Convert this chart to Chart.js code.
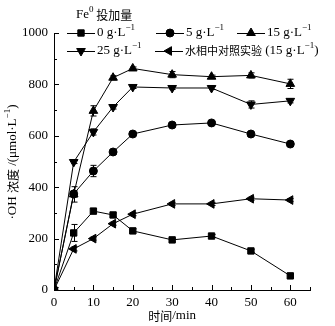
<!DOCTYPE html>
<html>
<head>
<meta charset="utf-8">
<script src="https://cdn.jsdelivr.net/npm/chart.js@4"></script>
<style>
  html, body { margin: 0; padding: 0; background: #fff; }
  #wrap { width: 335px; height: 326px; }
</style>
</head>
<body>
<div id="wrap"><canvas id="myChart" width="335" height="326"></canvas></div>
<script>
// time points (min)
const times = [0, 5, 10, 15, 20, 30, 40, 50, 60];
// ·OH concentration, µmol/L
const fe0 = [0, 222, 307, 292, 230, 195, 210, 152, 55];
const fe5 = [0, 374, 463, 537, 607, 642, 650, 607, 568];
const fe15 = [0, 372, 697, 826, 862, 838, 830, 835, 802];
const fe25 = [0, 498, 615, 712, 790, 786, 786, 722, 736];
const ctrl15 = [0, 160, 200, 258, 295, 335, 335, 355, 350];
// error bars
const err0 = [0, 33, 10, 8, 8, 6, 6, 6, 6];
const err5 = [0, 12, 22, 8, 6, 6, 6, 6, 6];
const err15 = [0, 30, 20, 8, 6, 12, 6, 10, 18];
const err25 = [0, 6, 12, 8, 6, 6, 6, 14, 8];
const errCtrl = [0, 8, 6, 6, 6, 6, 6, 6, 6];

const xTicks = [0, 10, 20, 30, 40, 50, 60];
const yTicks = [0, 200, 400, 600, 800, 1000];

const SERIF = '"Liberation Serif", "Times New Roman", serif';
const CJK = '"Noto Sans CJK SC", sans-serif';

function pts(vals) {
  return times.map((t, i) => ({ x: t, y: vals[i] }));
}

function series(label, vals, errs, style, rot, r) {
  return {
    label: label,
    data: pts(vals),
    errs: errs,
    borderColor: '#000',
    backgroundColor: '#000',
    borderWidth: 1,
    pointStyle: style,
    pointRotation: rot,
    pointRadius: r,
    pointBorderWidth: 1,
    pointBackgroundColor: '#000',
    pointBorderColor: '#000',
    tension: 0
  };
}

const datasets = [
  series('0 g·L⁻¹', fe0, err0, 'rect', 0, 4.5),
  series('5 g·L⁻¹', fe5, err5, 'circle', 0, 4),
  series('15 g·L⁻¹', fe15, err15, 'triangle', 0, 5),
  series('25 g·L⁻¹', fe25, err25, 'triangle', 180, 5),
  series('水相中对照实验 (15 g·L⁻¹)', ctrl15, errCtrl, 'triangle', 270, 5)
];

// draws text pieces: [text, font, yShift]
function drawPieces(ctx, x, y, pieces) {
  ctx.textBaseline = 'middle';
  ctx.textAlign = 'left';
  pieces.forEach(p => {
    ctx.font = p[1];
    ctx.fillText(p[0], x, y + (p[2] || 0));
    x += ctx.measureText(p[0]).width;
  });
  return x;
}

const main = '13px ' + SERIF;
const sup = '9px ' + SERIF;
const cjk = '12px ' + CJK;
const cjkLeg = '11px ' + CJK;

function gl(num) {
  return [[num + ' g·L', main, 0], ['−1', sup, -5]];
}

const extras = {
  id: 'extras',
  afterDatasetsDraw(chart) {
    const ctx = chart.ctx;
    const xs = chart.scales.x, ys = chart.scales.y;
    ctx.save();
    ctx.strokeStyle = '#000';
    ctx.fillStyle = '#000';
    ctx.lineWidth = 1;

    // error bars
    chart.data.datasets.forEach(ds => {
      ds.data.forEach((p, i) => {
        const e = ds.errs[i];
        if (!e) return;
        const px = Math.round(xs.getPixelForValue(p.x)) + 0.5;
        const y1 = ys.getPixelForValue(p.y + e);
        const y2 = ys.getPixelForValue(p.y - e);
        ctx.beginPath();
        ctx.moveTo(px, y1); ctx.lineTo(px, y2);
        ctx.moveTo(px - 3, y1); ctx.lineTo(px + 3, y1);
        ctx.moveTo(px - 3, y2); ctx.lineTo(px + 3, y2);
        ctx.stroke();
      });
    });

    // inward ticks
    const bottom = ys.getPixelForValue(0);
    const left = xs.getPixelForValue(0);
    ctx.beginPath();
    for (let v = 0; v <= 65; v += 5) {
      const px = Math.round(xs.getPixelForValue(v)) + 0.5;
      const len = v % 10 === 0 ? 5 : 3;
      ctx.moveTo(px, bottom); ctx.lineTo(px, bottom - len);
    }
    for (let v = 0; v <= 1000; v += 100) {
      const py = Math.round(ys.getPixelForValue(v)) + 0.5;
      const len = v % 200 === 0 ? 5 : 3;
      ctx.moveTo(left, py); ctx.lineTo(left + len, py);
    }
    ctx.stroke();

    // legend
    drawPieces(ctx, 76, 15, [['Fe', main, 0], ['0', sup, -5], [' 投加量', cjk, 0]]);
    const entries = [
      { ds: 0, x: 67, y: 33, pieces: gl('0') },
      { ds: 1, x: 156, y: 33, pieces: gl('5') },
      { ds: 2, x: 237, y: 33, pieces: gl('15') },
      { ds: 3, x: 67, y: 51, pieces: gl('25') },
      { ds: 4, x: 155, y: 51, pieces: [['水相中对照实验', cjkLeg, 0], [' (15 g·L', main, 0], ['−1', sup, -5], [')', main, 0]] }
    ];
    entries.forEach(en => {
      const ds = chart.data.datasets[en.ds];
      ctx.beginPath();
      ctx.moveTo(en.x, en.y + 0.5); ctx.lineTo(en.x + 28, en.y + 0.5);
      ctx.stroke();
      Chart.helpers.drawPoint(ctx, {
        pointStyle: ds.pointStyle,
        rotation: ds.pointRotation,
        radius: ds.pointRadius,
        borderWidth: 1
      }, en.x + 14, en.y);
      ctx.fillStyle = '#000';
      drawPieces(ctx, en.x + 30, en.y, en.pieces);
    });

    // y axis title
    ctx.save();
    ctx.translate(13, 162);
    ctx.rotate(-Math.PI / 2);
    ctx.textAlign = 'left';
    const parts = [['·OH ', main, 0], ['浓度', cjk, 0], [' /(μmol·L', main, 0], ['−1', sup, -5], [')', main, 0]];
    let w = 0;
    parts.forEach(p => { ctx.font = p[1]; w += ctx.measureText(p[0]).width; });
    drawPieces(ctx, -w / 2, 0, parts);
    ctx.restore();

    // x axis title
    ctx.textAlign = 'left';
    const xp = [['时间', cjk, 0], ['/min', main, 0]];
    let wx = 0;
    xp.forEach(p => { ctx.font = p[1]; wx += ctx.measureText(p[0]).width; });
    drawPieces(ctx, (left + xs.getPixelForValue(60)) / 2 - wx / 2, 316, xp);

    ctx.restore();
  }
};

const ctx = document.getElementById('myChart');
const myChart = new Chart(ctx, {
  type: 'line',
  data: { datasets: datasets },
  options: {
    responsive: false,
    animation: false,
    layout: { padding: { left: 0, top: 33, right: 25, bottom: 0 } },
    plugins: {
      legend: { display: false },
      tooltip: { enabled: false }
    },
    scales: {
      x: {
        type: 'linear',
        min: 0,
        max: 65,
        afterBuildTicks: axis => { axis.ticks = xTicks.map(v => ({ value: v })); },
        afterFit: axis => { axis.height = 36; },
        grid: { drawOnChartArea: false, drawTicks: false },
        border: { display: true, color: '#000', width: 1 },
        ticks: { color: '#000', font: { family: SERIF, size: 13 }, padding: 5, maxRotation: 0, callback: v => String(v) }
      },
      y: {
        type: 'linear',
        min: 0,
        max: 1000,
        afterBuildTicks: axis => { axis.ticks = yTicks.map(v => ({ value: v })); },
        afterFit: axis => { axis.width = 54; },
        grid: { drawOnChartArea: false, drawTicks: false },
        border: { display: true, color: '#000', width: 1 },
        ticks: { color: '#000', font: { family: SERIF, size: 13 }, padding: 6, callback: v => String(v) }
      }
    }
  },
  plugins: [extras]
});
</script>
</body>
</html>
